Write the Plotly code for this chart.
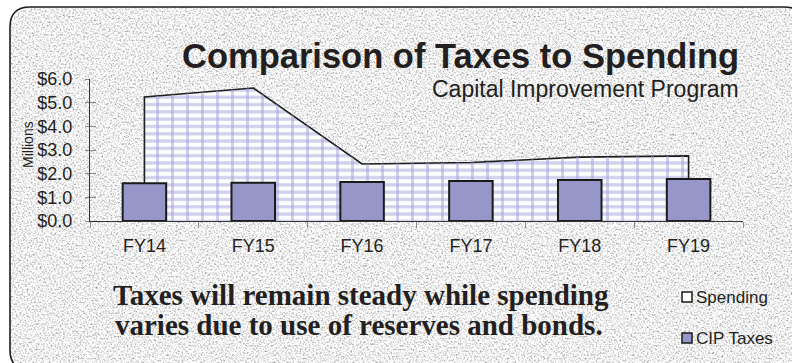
import base64
import plotly.graph_objects as go

# Fiscal years and values in millions of dollars
fiscal_years = ["FY14", "FY15", "FY16", "FY17", "FY18", "FY19"]
spending = [5.24, 5.62, 2.41, 2.47, 2.70, 2.75]
cip_taxes = [1.60, 1.62, 1.65, 1.69, 1.73, 1.77]
y_tick_values = [0, 1, 2, 3, 4, 5, 6]
y_tick_labels = ["$0.0", "$1.0", "$2.0", "$3.0", "$4.0", "$5.0", "$6.0"]

W, H = 792, 363
ML, MR, MT, MB = 90, 49, 79, 142
PW, PH = W - ML - MR, H - MT - MB

BAR_FILL = "#9696c8"
MORTAR = "#a2a2dc"
INK = "#231f20"


def px_x(px):
    return (px - ML) / PW


def px_y(py):
    return (H - MB - py) / PH


# Stone-textured rounded panel behind the whole chart
panel_path = "M10,27 Q10,7 30,7 H784 Q806,7 806,29 V348 Q806,370 784,370 H30 Q10,370 10,350 Z"
panel_svg = f"""<svg xmlns='http://www.w3.org/2000/svg' width='{W}' height='{H}' viewBox='0 0 {W} {H}'>
<defs>
<filter id='stone' x='0' y='0' width='100%' height='100%'>
<feTurbulence type='fractalNoise' baseFrequency='0.55' numOctaves='3' seed='7'/>
<feColorMatrix type='matrix' values='1.5 0 0 0 0.12  1.5 0 0 0 0.12  1.5 0 0 0 0.12  0 0 0 0 1'/>
</filter>
<clipPath id='panel'><path d='{panel_path}'/></clipPath>
</defs>
<g clip-path='url(#panel)'><rect x='0' y='0' width='{W}' height='{H}' filter='url(#stone)'/></g>
<path d='{panel_path}' fill='none' stroke='#1e1e1e' stroke-width='1.6'/>
</svg>"""
panel_uri = "data:image/svg+xml;base64," + base64.b64encode(panel_svg.encode()).decode()

fig = go.Figure()

# Spending area: closed polygon down to the axis at both ends
area_x = [fiscal_years[0]] + fiscal_years + [fiscal_years[-1]]
area_y = [0] + spending + [0]

fig.add_trace(go.Scatter(
    x=area_x, y=area_y, name="Spending", mode="lines", fill="toself",
    line=dict(color="#1e1e1e", width=1.6),
    fillpattern=dict(shape="-", size=7.3, solidity=0.45,
                     fgcolor=MORTAR, bgcolor="white"),
    showlegend=False, hoverinfo="skip",
))
fig.add_trace(go.Scatter(
    x=area_x, y=area_y, name="Spending joints", mode="none", fill="toself",
    fillpattern=dict(shape="|", size=15, solidity=0.2,
                     fgcolor=MORTAR, bgcolor="rgba(0,0,0,0)"),
    showlegend=False, hoverinfo="skip",
))

# CIP tax bars on an overlaid subplot so they sit above the area
fig.add_trace(go.Bar(
    x=fiscal_years, y=cip_taxes, name="CIP Taxes", width=0.4,
    marker=dict(color=BAR_FILL, line=dict(color="#1a1a1a", width=2)),
    xaxis="x2", yaxis="y2", showlegend=False,
))

sans = "Liberation Sans, Arial, sans-serif"

fig.update_layout(
    width=W, height=H,
    margin=dict(l=ML, r=MR, t=MT, b=MB, pad=0),
    paper_bgcolor="white",
    plot_bgcolor="rgba(0,0,0,0)",
    showlegend=False,
    xaxis=dict(
        type="category", categoryorder="array", categoryarray=fiscal_years,
        range=[-0.5, 5.5], tickson="boundaries",
        ticks="outside", ticklen=6, tickcolor="#8a8a8a", tickwidth=1,
        showline=True, linecolor="#333333", linewidth=1,
        showgrid=False, zeroline=False,
        tickfont=dict(family=sans, size=18, color=INK),
        ticklabelstandoff=8,
    ),
    yaxis=dict(
        range=[0, 6], tickvals=y_tick_values, ticktext=y_tick_labels,
        ticks="outside", ticklen=4, tickcolor="#8a8a8a", tickwidth=1,
        showline=True, linecolor="#333333", linewidth=1,
        showgrid=False, zeroline=False,
        tickfont=dict(family=sans, size=18, color=INK),
        ticklabelstandoff=9,
    ),
    xaxis2=dict(
        type="category", categoryorder="array", categoryarray=fiscal_years,
        range=[-0.5, 5.5], overlaying="x", visible=False,
    ),
    yaxis2=dict(
        range=[0, 6], tickvals=y_tick_values, overlaying="y",
        ticks="inside", ticklen=6, tickcolor="#8a8a8a", tickwidth=1,
        showticklabels=False, showline=False, showgrid=False, zeroline=False,
    ),
    images=[dict(
        source=panel_uri, xref="paper", yref="paper",
        x=-ML / PW, y=1 + MT / PH, sizex=W / PW, sizey=H / PH,
        xanchor="left", yanchor="top", sizing="stretch", layer="below",
    )],
)

annotations = [
    dict(text="<b>Comparison of Taxes to Spending</b>",
         x=px_x(741), y=px_y(56), xanchor="right", yanchor="middle",
         font=dict(family=sans, size=34.5, color=INK)),
    dict(text="Capital Improvement Program",
         x=px_x(741), y=px_y(89), xanchor="right", yanchor="middle",
         font=dict(family=sans, size=23, color=INK)),
    dict(text="Millions", textangle=-90,
         x=px_x(28), y=px_y(145), xanchor="center", yanchor="middle",
         font=dict(family=sans, size=14, color=INK)),
    dict(text="<b>Taxes will remain steady while spending</b>",
         x=px_x(361), y=px_y(295), xanchor="center", yanchor="middle",
         font=dict(family="Liberation Serif, serif", size=29, color=INK)),
    dict(text="<b>varies due to use of reserves and bonds.</b>",
         x=px_x(359), y=px_y(325), xanchor="center", yanchor="middle",
         font=dict(family="Liberation Serif, serif", size=29, color=INK)),
    dict(text="Spending",
         x=px_x(694), y=px_y(297), xanchor="left", yanchor="middle",
         font=dict(family=sans, size=17, color=INK)),
    dict(text="CIP Taxes",
         x=px_x(694), y=px_y(338), xanchor="left", yanchor="middle",
         font=dict(family=sans, size=17, color=INK)),
]
for a in annotations:
    a.update(xref="paper", yref="paper", showarrow=False)
fig.update_layout(annotations=annotations)

# Legend keys
legend_keys = [("white", 297), (BAR_FILL, 338)]
for color, cy in legend_keys:
    fig.add_shape(type="rect", xref="paper", yref="paper",
                  x0=px_x(682), x1=px_x(692), y0=px_y(cy + 5), y1=px_y(cy - 5),
                  fillcolor=color, line=dict(color="#1a1a1a", width=1.5))

fig.write_html("out.html")
